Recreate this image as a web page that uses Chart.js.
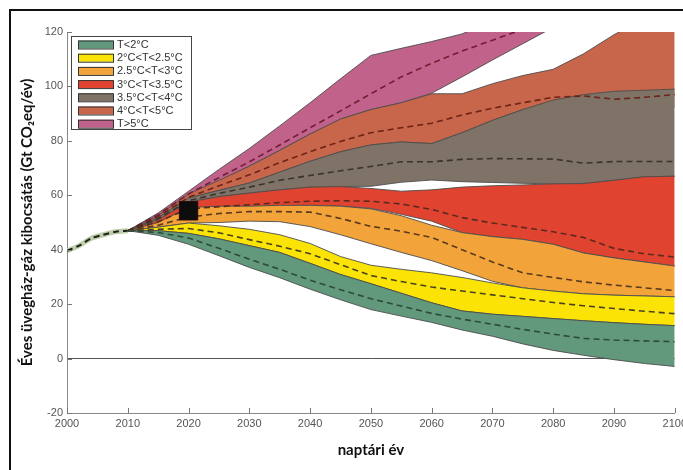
<!DOCTYPE html>
<html>
<head>
<meta charset="utf-8">
<script src="https://cdn.jsdelivr.net/npm/chart.js@4"></script>
<style>
html, body { margin: 0; padding: 0; background: #fff; width: 683px; height: 470px; overflow: hidden; }
#wrap { position: absolute; left: 0; top: 0; width: 691px; height: 470px; }
#frame { position: absolute; left: 9px; top: 9px; width: 720px; height: 500px; border-top: 2px solid #111; border-left: 2px solid #111; pointer-events: none; }
</style>
</head>
<body>
<div id="wrap"><canvas id="chart"></canvas></div>
<div id="frame"></div>
<script>
// Historical emissions
const histYears = [2000, 2002, 2004, 2006, 2008, 2010];
const histEmis = [39.6, 41.5, 44.2, 45.5, 46.6, 47];

// Scenario years
const years = [2010, 2015, 2020, 2025, 2030, 2035, 2040, 2045, 2050, 2055, 2060, 2065, 2070, 2075, 2080, 2085, 2090, 2095, 2100];

// T<2°C
const greenLo  = [47, 45.3, 42, 37.8, 33.5, 29.7, 25.5, 21.6, 18, 15.6, 13.3, 10.5, 8.2, 5.4, 3, 1.2, -0.4, -1.8, -2.9];
const greenMid = [47, 46.3, 44.3, 40.5, 36.5, 32.8, 28.8, 25.3, 22, 19.3, 16.6, 14.5, 12.6, 10.7, 9, 7.4, 6.8, 6.5, 6.2];
const greenHi  = [47, 47, 46, 44, 41.5, 39, 35, 30.9, 27.5, 24, 20.5, 17.5, 16.3, 15.5, 14.7, 13.9, 13.2, 12.6, 12.1];
// 2°C<T<2.5°C
const yellowLo  = [47, 47, 46, 44, 41.5, 39, 35, 30.9, 27.5, 24, 20.5, 17.5, 16.3, 15.5, 14.7, 13.9, 13.2, 12.6, 12.1];
const yellowMid = [47, 47.5, 47.8, 46.2, 43.7, 41.3, 38.5, 34.5, 30.5, 28.3, 26.3, 24.8, 23.4, 22, 20.6, 19.4, 18.4, 17.4, 16.5];
const yellowHi  = [47, 48.3, 49.8, 48.8, 47.5, 45.5, 42.3, 37.5, 34.3, 32.8, 31.5, 29.8, 27.8, 26, 24.8, 23.8, 23.3, 23, 22.7];
// 2.5°C<T<3°C
const orangeLo  = [47, 48.3, 49.8, 50, 50.5, 50.3, 48.5, 45.5, 42.2, 39, 36, 32.3, 28.4, 26, 24.8, 23.8, 23.3, 23, 22.7];
const orangeMid = [47, 49, 52, 53.3, 54, 54, 53.8, 51.5, 48.6, 46.8, 44.5, 40, 35.5, 31.5, 29.8, 28.2, 27, 26, 25];
const orangeHi  = [47, 50, 55.5, 56, 56, 56.3, 56.3, 56, 55, 52.5, 49, 46.3, 44.8, 43.8, 42, 38.8, 37, 35.5, 34];
// 3°C<T<3.5°C
const redLo  = [47, 49.5, 51.5, 55.2, 55.8, 56.2, 56.3, 56, 55.2, 53, 50.5, 46.3, 44.8, 43.8, 42, 38.8, 37, 35.5, 34];
const redMid = [47, 50.3, 55, 55.8, 56.5, 57.3, 57.8, 58, 57.8, 56.8, 54.8, 51.8, 49.8, 48.2, 46.6, 44.5, 40.5, 38.5, 37.3];
const redHi  = [47, 51, 57.5, 59.5, 60.8, 62, 63, 63.2, 62.5, 61.5, 62, 63, 63.5, 63.8, 64.2, 64.3, 65.5, 66.8, 67];
// 3.5°C<T<4°C
const brownLo  = [47, 51, 57.5, 59.5, 60.8, 62, 63, 63.2, 63.3, 64.8, 65.6, 65, 64.7, 64.4, 64.2, 64.3, 65.5, 66.8, 67];
const brownMid = [47, 51.4, 58, 60.7, 63, 65.5, 67.3, 69, 70.6, 72.3, 72.3, 73.2, 73.5, 73.4, 73.3, 71.8, 72.4, 72.4, 72.4];
const brownHi  = [47, 51.8, 59, 61.8, 64.5, 68.5, 72.5, 76, 78.5, 79.6, 79, 83, 87.5, 91.5, 95, 97, 98.2, 98.6, 99];
// 4°C<T<5°C
const rustLo  = [47, 51.8, 59, 61.8, 64.5, 68.5, 72.5, 76, 78.5, 79.6, 79, 83, 87.5, 91.5, 93, 92, 91.5, 92, 92.5];
const rustMid = [47, 52.2, 59.3, 63.5, 67.5, 72, 76, 79.8, 83, 84.8, 86.5, 89.5, 92, 94, 96, 96.5, 95.3, 96, 97];
const rustHi  = [47, 52.6, 60.5, 65.5, 70.7, 76.5, 82.5, 88, 91.5, 94, 97.3, 97.3, 101, 104, 106.3, 112, 119, 125, 131];
// T>5°C
const pinkLo  = [47, 52.4, 59.5, 65, 70.7, 76.5, 82.5, 88, 91.5, 94, 97.5, 103.5, 109.7, 115.7, 121.7, null, null, null, null];
const pinkMid = [47, 52.9, 60.5, 66.5, 72.3, 78.5, 84.8, 91, 97.3, 103.5, 108.5, 113, 117, 121, 125, null, null, null, null];
const pinkHi  = [47, 53.5, 61.5, 69.5, 77.2, 85.5, 94, 102.8, 111.4, 114, 116.5, 119.3, 124, 128, 132, null, null, null, null];

// 2020 marker
const markYear = [2020];
const markEmis = [54.3];

const bandLabels = ['T<2°C', '2°C<T<2.5°C', '2.5°C<T<3°C', '3°C<T<3.5°C', '3.5°C<T<4°C', '4°C<T<5°C', 'T>5°C'];
const bandLo  = [greenLo, yellowLo, orangeLo, redLo, brownLo, rustLo, pinkLo];
const bandMid = [greenMid, yellowMid, orangeMid, redMid, brownMid, rustMid, pinkMid];
const bandHi  = [greenHi, yellowHi, orangeHi, redHi, brownHi, rustHi, pinkHi];
const fillColors = ['#62987b', '#fae305', '#f2a33a', '#e04431', '#7e7366', '#c8664b', '#c0628a'];
const midColors  = ['#2d4a3a', '#4a4220', '#5a3a1e', '#5a2a1e', '#3b332c', '#6e2418', '#6e1f35'];

function pts(xs, ys) {
    return xs.map((x, i) => ({ x: x, y: ys[i] })).filter(p => p.y !== null);
}

const datasets = [];

// black square at 2020
datasets.push({
    data: pts(markYear, markEmis),
    showLine: false,
    pointStyle: 'rect',
    pointRadius: 13,
    backgroundColor: '#0d0d0d',
    borderColor: '#2a0a0a',
    borderWidth: 1,
    order: -2
});

// history: light band with dashed line on top
datasets.push({
    data: pts(histYears, histEmis),
    borderColor: '#1f1f1f',
    borderWidth: 2,
    borderDash: [6, 4],
    pointRadius: 0,
    fill: false,
    tension: 0.3,
    order: -1
});
datasets.push({
    data: pts(histYears, histEmis),
    borderColor: '#bccfa8',
    borderWidth: 5,
    pointRadius: 0,
    fill: false,
    tension: 0.3,
    order: 0
});

// median dashed lines
bandMid.forEach((m, i) => {
    datasets.push({
        data: pts(years, m),
        borderColor: midColors[i],
        borderWidth: 1.6,
        borderDash: [6, 4],
        pointRadius: 0,
        fill: false,
        order: 0
    });
});

// bands (cooler bands drawn over hotter ones)
bandLabels.forEach((lab, i) => {
    datasets.push({
        label: lab + ' lo',
        data: pts(years, bandLo[i]),
        borderColor: '#4d4d4d',
        borderWidth: 0.9,
        pointRadius: 0,
        fill: false,
        order: 1
    });
    datasets.push({
        label: lab,
        data: pts(years, bandHi[i]),
        borderColor: '#4d4d4d',
        borderWidth: 0.9,
        backgroundColor: fillColors[i],
        pointRadius: 0,
        fill: '-1',
        order: 1
    });
});

// ticks pointing into the plot
const inTicks = {
    id: 'inTicks',
    afterDraw(chart) {
        const { ctx, chartArea: a, scales } = chart;
        ctx.save();
        ctx.strokeStyle = '#777';
        ctx.lineWidth = 1;
        scales.x.ticks.forEach(t => {
            const px = Math.round(scales.x.getPixelForValue(t.value)) + 0.5;
            ctx.beginPath();
            ctx.moveTo(px, a.bottom);
            ctx.lineTo(px, a.bottom - 5);
            ctx.stroke();
        });
        scales.y.ticks.forEach(t => {
            const py = Math.round(scales.y.getPixelForValue(t.value)) + 0.5;
            ctx.beginPath();
            ctx.moveTo(a.left, py);
            ctx.lineTo(a.left + 5, py);
            ctx.stroke();
        });
        ctx.restore();
    }
};

// boxed legend in the upper left corner
const boxLegend = {
    id: 'boxLegend',
    afterDraw(chart) {
        const { ctx, chartArea: a } = chart;
        const left = a.left + 4, top = a.top + 4;
        ctx.save();
        ctx.fillStyle = '#fff';
        ctx.fillRect(left, top, 120, 93);
        ctx.strokeStyle = '#444';
        ctx.lineWidth = 1;
        ctx.strokeRect(left + 0.5, top + 0.5, 120, 93);
        ctx.font = '11px "Liberation Sans", Arial, sans-serif';
        ctx.textBaseline = 'middle';
        bandLabels.forEach((lab, i) => {
            const cy = top + 8.5 + i * 13.2;
            ctx.fillStyle = fillColors[i];
            ctx.fillRect(left + 7, cy - 4, 35, 8);
            ctx.strokeStyle = '#333';
            ctx.strokeRect(left + 7.5, cy - 3.5, 35, 8);
            ctx.fillStyle = '#333';
            ctx.fillText(lab, left + 46, cy + 0.5);
        });
        ctx.restore();
    }
};

Chart.defaults.font.family = '"Liberation Sans", Arial, sans-serif';

new Chart(document.getElementById('chart').getContext('2d'), {
    type: 'line',
    data: { datasets: datasets },
    options: {
        responsive: true,
        maintainAspectRatio: false,
        animation: false,
        events: [],
        layout: { padding: { top: 32, right: 13, left: 0, bottom: 0 } },
        plugins: {
            legend: { display: false },
            tooltip: { enabled: false }
        },
        scales: {
            x: {
                type: 'linear',
                min: 2000,
                max: 2100,
                ticks: {
                    stepSize: 10,
                    color: '#555',
                    font: { size: 11 },
                    padding: 4,
                    maxRotation: 0,
                    callback: v => String(v)
                },
                grid: { display: false, drawTicks: false },
                border: { display: true, color: '#888', width: 1 },
                title: {
                    display: true,
                    text: 'naptári év',
                    color: '#111',
                    font: { family: 'Lato, "Open Sans", sans-serif', size: 15, weight: 'bold' },
                    padding: { top: 4, bottom: 11 }
                },
                afterFit: s => { s.height = 57; }
            },
            y: {
                min: -20,
                max: 120,
                ticks: {
                    stepSize: 20,
                    color: '#555',
                    font: { size: 11 },
                    padding: 4
                },
                grid: {
                    drawTicks: false,
                    lineWidth: 1,
                    color: c => (c.tick && c.tick.value === 0) ? '#555' : 'rgba(0,0,0,0)'
                },
                border: { display: true, color: '#888', width: 1 },
                title: {
                    display: true,
                    text: 'Éves üvegház-gáz kibocsátás (Gt CO₂eq/év)',
                    color: '#111',
                    font: { family: 'Lato, "Open Sans", sans-serif', size: 15, weight: 'bold' },
                    padding: { top: 18, bottom: 0 }
                },
                afterFit: s => { s.width = 67; }
            }
        }
    },
    plugins: [inTicks, boxLegend]
});
</script>
</body>
</html>
